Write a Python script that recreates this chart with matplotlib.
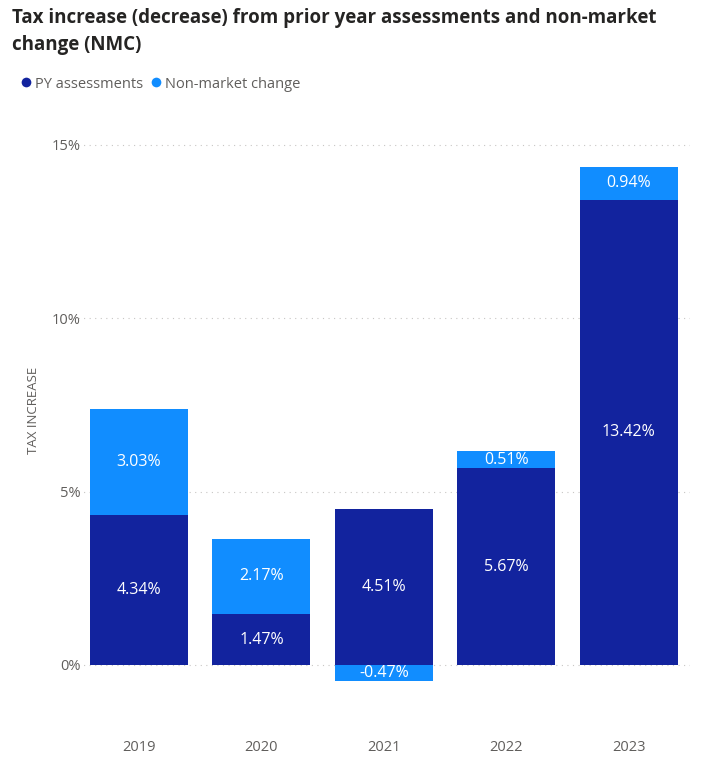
import matplotlib
matplotlib.use("Agg")
import matplotlib.pyplot as plt
from matplotlib.lines import Line2D

years = ["2019", "2020", "2021", "2022", "2023"]
py_assess = [4.34, 1.47, 4.51, 5.67, 13.42]
nmc = [3.03, 2.17, -0.47, 0.51, 0.94]
yticks = [0, 5, 10, 15]
ytick_labels = ["0%", "5%", "10%", "15%"]

DARK = "#12239E"
LIGHT = "#118DFF"

plt.rcParams['font.family'] = ['Open Sans', 'DejaVu Sans']

fig = plt.figure(figsize=(7.04, 7.65), dpi=100)
ax = fig.add_axes([77.75/704, 1-700/765, (690-77.75)/704, 580/765])

x = range(len(years))
ax.bar(x, py_assess, width=0.8, color=DARK, zorder=3)
bottoms = [p if n >= 0 else 0 for p, n in zip(py_assess, nmc)]
ax.bar(x, nmc, width=0.8, bottom=bottoms, color=LIGHT, zorder=3)

for i, (p, n) in enumerate(zip(py_assess, nmc)):
    ax.text(i, p/2, f"{p:.2f}%", ha="center", va="center", color="white", fontsize=11.5, zorder=4)
    if n >= 0:
        yc = p + n/2
    else:
        yc = n/2
    ax.text(i, yc, f"{n:.2f}%", ha="center", va="center", color="white", fontsize=11.5, zorder=4)

ax.set_xlim(-0.5, len(years)-0.5)
ax.set_ylim(-1.01, 15.72)
ax.set_yticks(yticks)
ax.set_yticklabels(ytick_labels)
ax.set_xticks(list(x))
ax.set_xticklabels(years)
ax.tick_params(axis="both", length=0, labelsize=10.5, colors="#605E5C")
ax.tick_params(axis="x", pad=29)
ax.tick_params(axis="y", pad=-2)
for s in ax.spines.values():
    s.set_visible(False)
ax.grid(axis="y", color="#C8C6C4", linestyle=(0, (1, 4)), linewidth=0.8, zorder=0)
ax.set_ylabel("TAX INCREASE", fontsize=9.5, color="#605E5C", labelpad=0)
ax.yaxis.set_label_coords(-38/612, 0.5)

fig.text(12/704, 1-8/765, "Tax increase (decrease) from prior year assessments and non-market\nchange (NMC)",
         fontsize=13.5, fontweight="bold", color="#252423", va="top", ha="left", linespacing=1.45)

handles = [Line2D([0], [0], marker="o", color="w", markerfacecolor=DARK, markersize=8, label="PY assessments"),
           Line2D([0], [0], marker="o", color="w", markerfacecolor=LIGHT, markersize=8, label="Non-market change")]
fig.legend(handles=handles, loc="center left", bbox_to_anchor=(4/704, 1-84/765), ncol=2, frameon=False,
           fontsize=10.5, handletextpad=0.0, columnspacing=0.3, handlelength=1.2, labelcolor="#605E5C")

fig.savefig("out.png", dpi=100)
